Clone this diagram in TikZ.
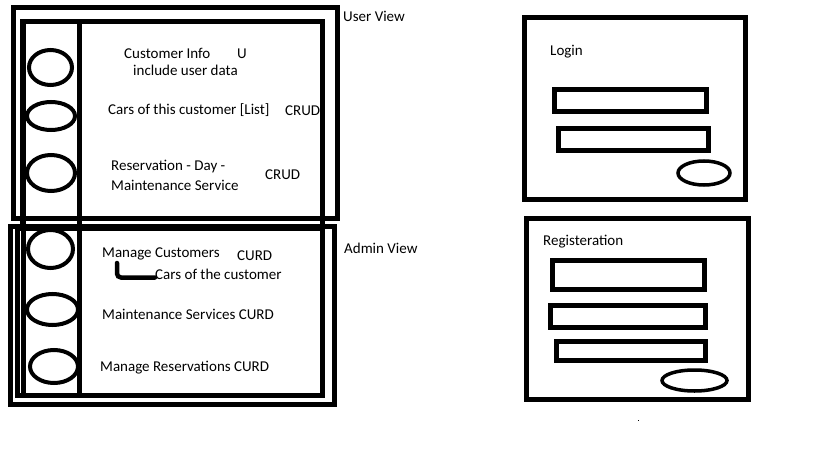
\documentclass[tikz,border=0pt]{standalone}
\usepackage{fontspec}
\setmainfont{Carlito}
\begin{document}
\begin{tikzpicture}[x=1pt,y=-1pt,
  box/.style={draw=black,line width=5pt},
  fld/.style={draw=black,line width=4.5pt},
  oval/.style={draw=black,line width=4pt},
  lbl/.style={anchor=base west,inner sep=0pt,font=\fontsize{15}{18}\selectfont}]
\useasboundingbox[fill=white] (0,0) rectangle (819,460);
% user view
\draw[box] (13.5,8) rectangle (337.5,218.5);
\draw[box] (22.5,22) rectangle (322.5,227);
% admin view
\draw[box] (10.5,226) rectangle (334.5,404);
\draw[box] (17.5,228) rectangle (322.5,395.5);
% sidebar
\draw[box] (23,22) rectangle (79.5,395.5);
% ovals
\draw[oval] (50.5,67.5) ellipse [x radius=21.5,y radius=17.5];
\draw[oval] (51,116) ellipse [x radius=24,y radius=14];
\draw[oval] (51,173) ellipse [x radius=24,y radius=18];
\draw[oval] (50.5,249) ellipse [x radius=22.5,y radius=19];
\draw[oval] (52.5,309.5) ellipse [x radius=25.5,y radius=15.5];
\draw[oval] (54,366.5) ellipse [x radius=24,y radius=16.5];
% texts user
\node[lbl] (uv) at (343,22) {User View};
\node[lbl] (ci) at (124,59) {Customer Info};
\node[lbl] (u) at (237,59) {U};
\node[lbl] (iud) at (133,76) {include user data};
\node[lbl] (cars) at (108,114) {Cars of this customer [List]};
\node[lbl] (crud1) at (285,115) {CRUD};
\node[lbl] (res1) at (111,170) {Reservation - Day -};
\node[lbl] (res2) at (111,190) {Maintenance Service};
\node[lbl] (crud2) at (265,179) {CRUD};
% texts admin
\node[lbl] (av) at (344,253) {Admin View};
\node[lbl] (mc) at (102,257) {Manage Customers};
\node[lbl] (curd1) at (237,260) {CURD};
\node[lbl] (coc) at (155,279) {Cars of the customer};
\node[lbl] (ms) at (102,319) {Maintenance Services CURD};
\node[lbl] (mr) at (100,371) {Manage Reservations CURD};
\coordinate (bt) at (117,263);
\draw[line width=4.5pt,line cap=round,rounded corners=4pt] (bt) |- (coc.west |- 0,277.5);
% login
\draw[box] (524.5,17.5) rectangle (745.5,199.5);
\node[lbl] (login) at (550,56) {Login};
\draw[fld] (554.5,89.5) rectangle (706.5,111.5);
\draw[fld] (558.5,128.5) rectangle (708.5,150.5);
\draw[line width=3.5pt] (704,173) ellipse [x radius=26,y radius=12];
% registration
\draw[box] (526.5,218.5) rectangle (748.5,399.5);
\node[lbl] (reg) at (543,245) {Registeration};
\draw[fld] (552.5,260.5) rectangle (704.5,289.5);
\draw[fld] (550.5,305.5) rectangle (705.5,327.5);
\draw[fld] (556.5,341.5) rectangle (705.5,360.5);
\draw[line width=3.5pt] (694.5,380.5) ellipse [x radius=32.5,y radius=10.5];
% stray dot
\fill (637.5,419.5) rectangle (638.7,420.7);
\end{tikzpicture}
\end{document}
